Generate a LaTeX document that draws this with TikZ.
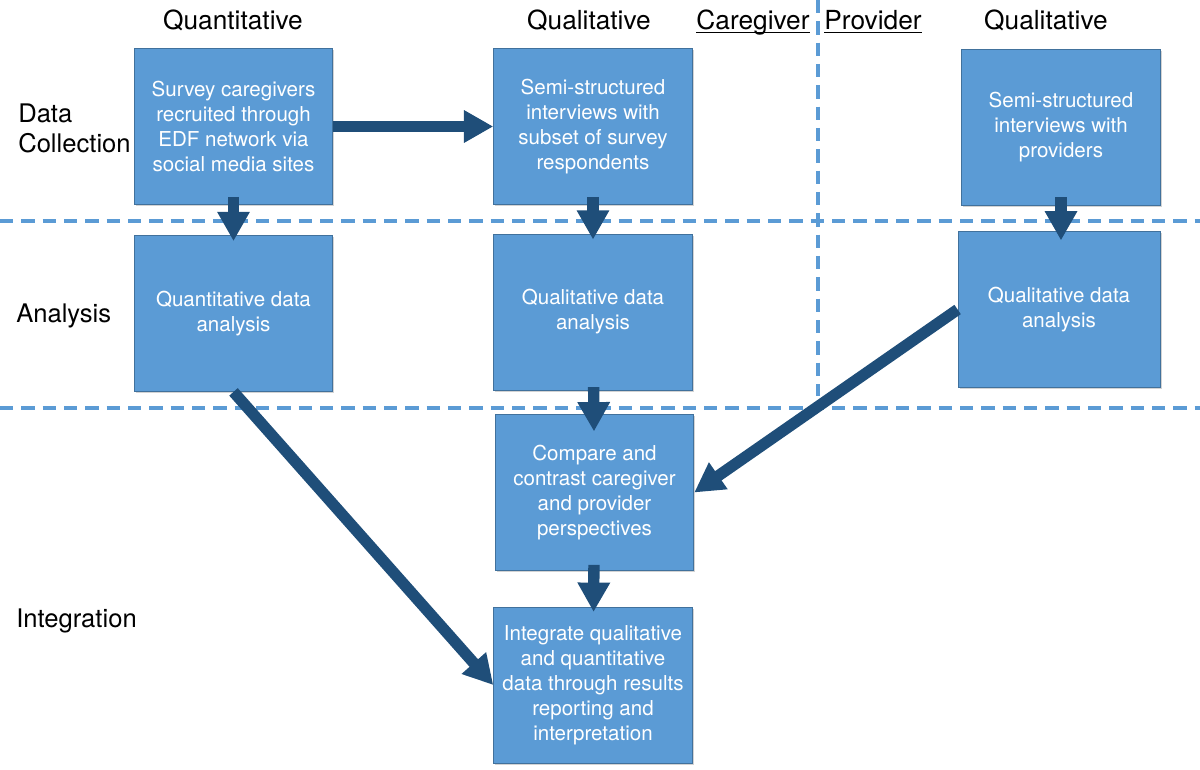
\documentclass[tikz,border=0pt]{standalone}
\usepackage{fontspec}
\setmainfont{TeX Gyre Heros}
\usepackage{xcolor}
\usetikzlibrary{arrows.meta,shadows}
\definecolor{boxblue}{HTML}{5B9BD5}
\definecolor{boxedge}{HTML}{41719C}
\definecolor{flowblue}{HTML}{1F4E79}

\begin{document}
\begin{tikzpicture}[x=0.75pt, y=-0.75pt,
  stage/.style={fill=boxblue, draw=boxedge, line width=0.6pt, text=white, align=center,
    minimum width=149pt, minimum height=117pt, inner sep=0pt,
    font=\fontsize{15.4}{18.75}\selectfont,
    drop shadow={shadow xshift=1.2pt, shadow yshift=-1.2pt, opacity=0.35}},
  head/.style={anchor=base, inner sep=0pt, font=\fontsize{19.7}{23}\selectfont},
  rowlabel/.style={anchor=west, align=left, inner sep=0pt, font=\fontsize{19.2}{22.5}\selectfont},
  flow/.style={draw=flowblue, line width=8.5pt, -{Triangle[width=23pt,length=22pt]}},
  divider/.style={draw=boxblue, line width=2.5pt, dash pattern=on 10pt off 6pt}]
\useasboundingbox (0,0) rectangle (1200,770);

% swim lanes
\foreach \y in {221,408}
  \draw[divider] (0,\y) -- (1200,\y);
\draw[divider] (818,0) -- (818,396);

% column and row titles
\node[head] (hquant) at (233,30) {Quantitative};
\node[head] (hqual) at (589,30) {Qualitative};
\node[head] (hcare) at (753,30) {\underline{\smash{Caregiver}}};
\node[head] (hprov) at (873,30) {\underline{\smash{Provider}}};
\node[head] (hqualp) at (1046,30) {Qualitative};
\node[rowlabel] (rdata) at (18,128) {Data\\Collection};
\node[rowlabel, anchor=base west] (ranal) at (16,322) {Analysis};
\node[rowlabel, anchor=base west] (rinteg) at (16,627) {Integration};

% steps
\node[stage] (survey) at (233.5,126.5) {Survey caregivers\\recruited through\\EDF network via\\social media sites};
\node[stage] (subset) at (593,126.5) {Semi-structured\\interviews with\\subset of survey\\respondents};
\node[stage] (provint) at (1061,127) {Semi-structured\\interviews with\\providers};
\node[stage] (quantan) at (233.5,313.5) {Quantitative data\\analysis};
\node[stage] (qualan) at (593,312) {Qualitative data\\analysis};
\node[stage, minimum width=151.5pt] (provan) at (1059,309.5) {Qualitative data\\analysis};
\node[stage] (compare) at (594.5,492.5) {Compare and\\contrast caregiver\\and provider\\perspectives};
\node[stage] (integ) at (593,685) {Integrate qualitative\\and quantitative\\data through results\\reporting and\\interpretation};

% arrows
\draw[flow] (survey) -- (subset);
\draw[flow, shorten <=-6pt, shorten >=-4.5pt] (survey) -- (quantan);
\draw[flow, shorten <=-6pt, shorten >=-4.5pt] (subset) -- (qualan);
\draw[flow, shorten <=-6pt, shorten >=-7pt] (provint.south) -- (provint.south |- provan.north);
\draw[flow, shorten <=-2.5pt, shorten >=-13pt] (qualan) -- (compare);
\draw[flow, shorten <=-4.5pt, shorten >=-4pt] (compare) -- (integ);
\draw[flow] (quantan.south) -- (integ.west);
\draw[flow] (provan.west) -- (compare.east);
\end{tikzpicture}
\end{document}
